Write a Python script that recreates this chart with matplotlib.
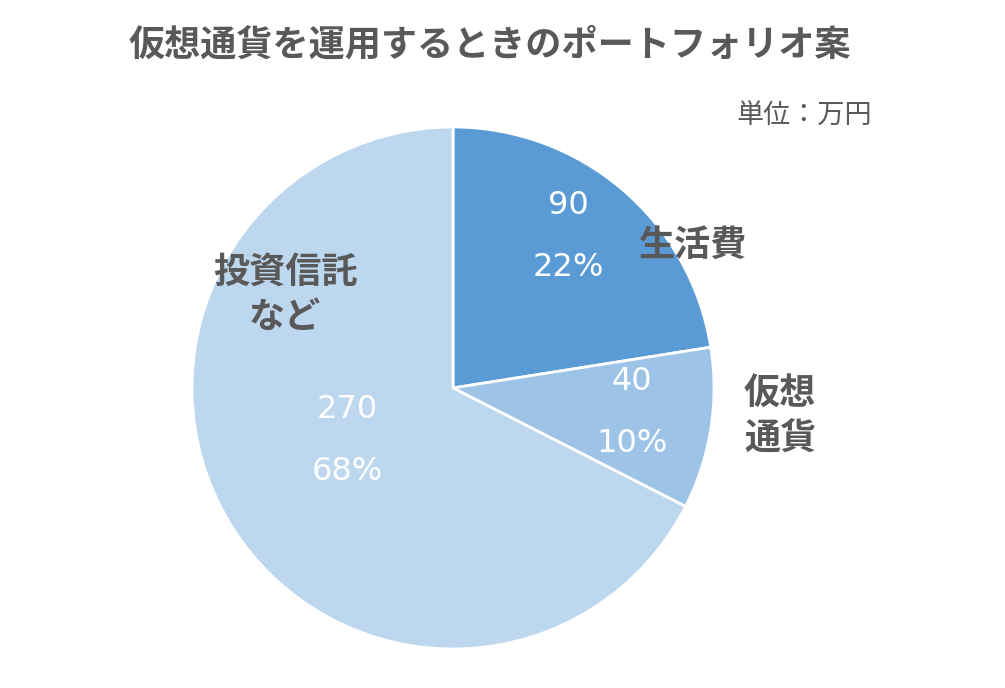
import matplotlib
matplotlib.use("Agg")
import matplotlib.pyplot as plt

plt.rcParams['font.family'] = ['Noto Sans CJK JP', 'DejaVu Sans']

categories = ["生活費", "仮想\n通貨", "投資信託\nなど"]
values = [90, 40, 270]
percents = ["22%", "10%", "68%"]
colors = ["#5B9BD5", "#9DC3E6", "#BDD7EE"]
title = "仮想通貨を運用するときのポートフォリオ案"
unit = "単位：万円"

W, H = 1005, 688
fig = plt.figure(figsize=(W / 100, H / 100), dpi=100)
ax = fig.add_axes([0, 0, 1, 1])
ax.set_xlim(0, W)
ax.set_ylim(0, H)
ax.set_aspect('equal')
ax.axis('off')

cx, cy, r = 453, H - 388, 261
ax.pie(values, colors=colors, startangle=90, counterclock=False,
       center=(cx, cy), radius=r, frame=False,
       wedgeprops=dict(edgecolor='white', linewidth=2))
ax.set_xlim(0, W)
ax.set_ylim(0, H)

def P(x, y):
    return x, H - y

gray = "#595959"
ax.text(*P(490, 45), title, ha='center', va='center', fontsize=26,
        fontweight='bold', color=gray)
ax.text(*P(804, 116), unit, ha='center', va='center', fontsize=19.5, color=gray)

# value / percent labels
val_pos = [(568, 206), (632, 382), (347, 410)]
pct_pos = [(568, 268), (632, 443), (347, 471)]
numfont = ['DejaVu Sans']
for v, p, vp, pp in zip(values, percents, val_pos, pct_pos):
    ax.text(*P(*vp), str(v), ha='center', va='center', fontsize=23,
            color='white', family=numfont)
    ax.text(*P(*pp), p, ha='center', va='center', fontsize=23,
            color='white', family=numfont)

cat_pos = [(693, 245), (780, 416), (285, 295)]
for c, cp in zip(categories, cat_pos):
    ax.text(*P(*cp), c, ha='center', va='center', fontsize=26,
            fontweight='bold', color=gray, linespacing=1.3)

fig.savefig("out.png", dpi=100)
